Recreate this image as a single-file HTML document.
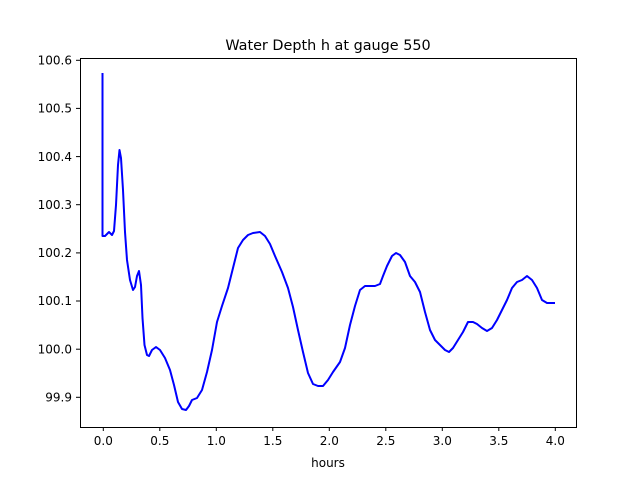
<!DOCTYPE html>
<html><head><style>
body{margin:0;background:#fff;}
svg{display:block;font-family:"DejaVu Sans","Liberation Sans",sans-serif;}
</style></head><body>
<svg width="640" height="480" viewBox="0 0 640 480">
<rect width="640" height="480" fill="#fff"/>
<text x="328" y="50" font-size="14.4" text-anchor="middle">Water Depth h at gauge 550</text>
<polyline fill="none" stroke="#0000ff" stroke-width="2" stroke-linejoin="round" points="
102.5,73 102.5,236 105,236 109,232 112,235 114,231 116,205 118,165 119.5,150 121,158 123,190 125,232 127,260 130,280 133,290 135,287 137,276 139,271 141,285 142.5,318 144.5,345 147,355 149,356 152,350 156,347 160,350 165,358 170,370 174,385 178,402 182,409 186,410 189,406 192,400 197,398 202,390 207,372 212,350 217,322 222,306 228,288 233,268 238,248 243,240 248,235 253,233 260,232 265,236 270,244 275,256 282,272 288,288 293,307 298,330 303,352 308,373 313,384 318,386 323,386 328,380 333,372 340,362 345,348 350,325 355,306 360,290 365,286 370,286 375,286 380,284 383,276 387,266 392,256 396,253 400,255 405,262 410,276 415,282 420,292 425,312 430,330 435,340 440,345 445,350 449,352 453,348 458,340 463,332 468,322 473,322 477,324 482,328 487,331 492,328 497,320 502,310 507,300 512,288 517,282 522,280 527,276 532,280 537,288 542,300 547,303 555,303"/>
<rect x="80.5" y="58.5" width="496" height="369" fill="none" stroke="#000" stroke-width="1"/>
<g stroke="#000" stroke-width="1">
<line x1="103.3" y1="427" x2="103.3" y2="431"/>
<line x1="159.8" y1="427" x2="159.8" y2="431"/>
<line x1="216.3" y1="427" x2="216.3" y2="431"/>
<line x1="272.8" y1="427" x2="272.8" y2="431"/>
<line x1="329.3" y1="427" x2="329.3" y2="431"/>
<line x1="385.8" y1="427" x2="385.8" y2="431"/>
<line x1="442.3" y1="427" x2="442.3" y2="431"/>
<line x1="498.8" y1="427" x2="498.8" y2="431"/>
<line x1="555.3" y1="427" x2="555.3" y2="431"/>
<line x1="76" y1="397.3" x2="80" y2="397.3"/>
<line x1="76" y1="349.2" x2="80" y2="349.2"/>
<line x1="76" y1="301" x2="80" y2="301"/>
<line x1="76" y1="252.9" x2="80" y2="252.9"/>
<line x1="76" y1="204.7" x2="80" y2="204.7"/>
<line x1="76" y1="156.6" x2="80" y2="156.6"/>
<line x1="76" y1="108.4" x2="80" y2="108.4"/>
<line x1="76" y1="60.3" x2="80" y2="60.3"/>
</g>
<g font-size="12" text-anchor="middle">
<text x="103.3" y="445">0.0</text>
<text x="159.8" y="445">0.5</text>
<text x="216.3" y="445">1.0</text>
<text x="272.8" y="445">1.5</text>
<text x="329.3" y="445">2.0</text>
<text x="385.8" y="445">2.5</text>
<text x="442.3" y="445">3.0</text>
<text x="498.8" y="445">3.5</text>
<text x="555.3" y="445">4.0</text>
<text x="328" y="467">hours</text>
</g>
<g font-size="12" text-anchor="end">
<text x="72" y="401.5">99.9</text>
<text x="72" y="353.4">100.0</text>
<text x="72" y="305.2">100.1</text>
<text x="72" y="257.1">100.2</text>
<text x="72" y="208.9">100.3</text>
<text x="72" y="160.8">100.4</text>
<text x="72" y="112.6">100.5</text>
<text x="72" y="64.5">100.6</text>
</g>
</svg>
</body></html>
